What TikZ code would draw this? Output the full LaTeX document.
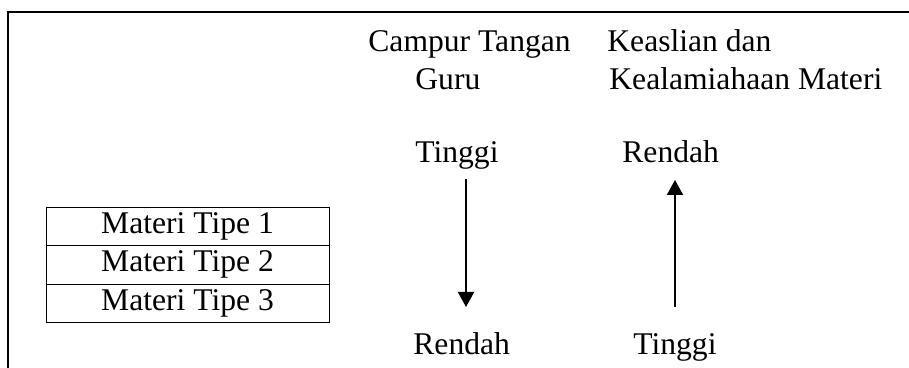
\documentclass[tikz,border=0pt]{standalone}
\usepackage{fontspec}
\setmainfont{Liberation Serif}
\usetikzlibrary{arrows.meta,positioning}

\begin{document}
\begin{tikzpicture}[x=0.5pt,y=-0.5pt,
    lbl/.style={anchor=base west,inner sep=0pt,font=\fontsize{15.8}{19}\selectfont},
    row/.style={draw,line width=0.5pt,outer sep=0pt,inner sep=0pt,minimum width=141.5pt,minimum height=19.2pt,font=\fontsize{15.8}{19}\selectfont},
    flow/.style={line width=1pt,-{Triangle[length=7.5pt,width=8pt]}}]
                \useasboundingbox (0,0) rectangle (909,368);
                \draw[line width=1pt] (909,12) -- (8,12) -- (8,368);
                % tabel materi
                \node[row] (tipe1) at (187.5,226.5) {Materi Tipe 1};
                \node[row,below=0pt of tipe1] (tipe2) {Materi Tipe 2};
                \node[row,below=0pt of tipe2] (tipe3) {Materi Tipe 3};
                % judul kolom
                \node[lbl] (campur) at (368,52) {Campur Tangan};
                \node[lbl] (guru) at (415,90) {Guru};
                \node[lbl] (keaslian) at (607,52) {Keaslian dan};
                \node[lbl] (alami) at (609,90) {Kealamiahaan Materi};
                \node[lbl] (tinggiA) at (415,163) {Tinggi};
                \node[lbl] (rendahA) at (413,355) {Rendah};
                \node[lbl] (rendahB) at (622,163) {Rendah};
                \node[lbl] (tinggiB) at (633,355) {Tinggi};
                % panah
                \coordinate (guruAtas) at (466,179);
                \coordinate (guruBawah) at (466,307);
                \coordinate (aslBawah) at (675,307);
                \coordinate (aslAtas) at (675,180);
                \draw[flow] (guruAtas) -- (guruBawah);
                \draw[flow] (aslBawah) -- (aslAtas);
            \end{tikzpicture}
\end{document}
